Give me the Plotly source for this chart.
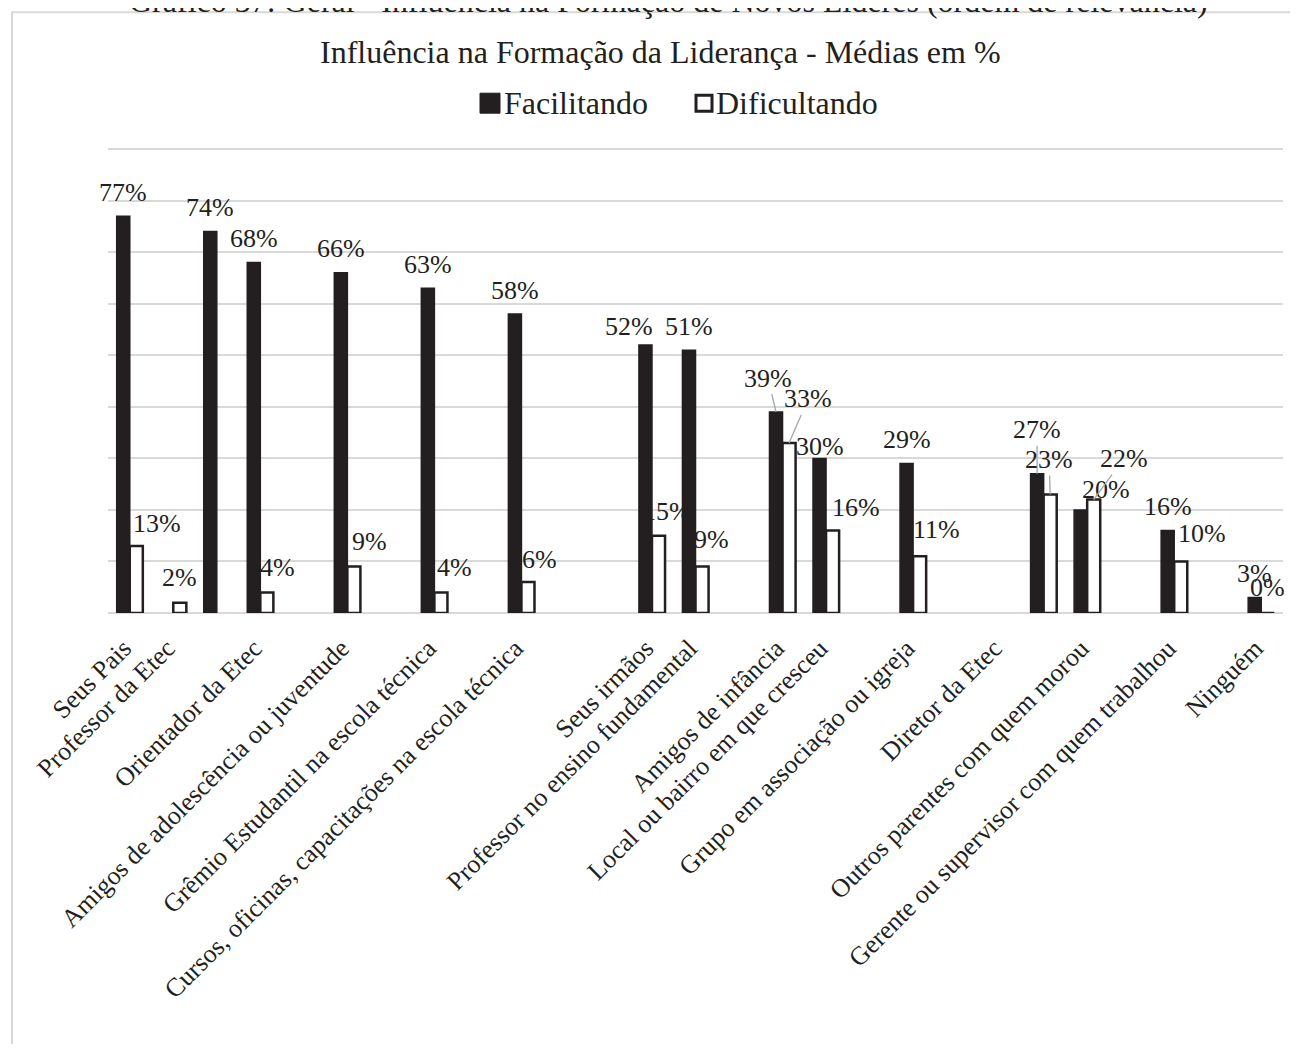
import plotly.graph_objects as go

# 27 category slots along the x axis (some slots carry no label)
slot_labels = [
    "Seus Pais", "Professor da Etec", "", "Orientador da Etec", "",
    "Amigos de adolescência ou juventude", "", "Grêmio Estudantil na escola técnica", "",
    "Cursos, oficinas, capacitações na escola técnica", "", "",
    "Seus irmãos", "Professor no ensino fundamental", "",
    "Amigos de infância", "Local ou bairro em que cresceu", "",
    "Grupo em associação ou igreja", "", "Diretor da Etec", "",
    "Outros parentes com quem morou", "", "Gerente ou supervisor com quem trabalhou", "",
    "Ninguém",
]
facilitando = [77, None, 74, 68, None, 66, None, 63, None, 58, None, None,
               52, 51, None, 39, 30, None, 29, None, None, 27, 20, None, 16, None, 3]
dificultando = [13, 2, None, 4, None, 9, None, 4, None, 6, None, None,
                15, 9, None, 33, 16, None, 11, None, None, 23, 22, None, 10, None, 0]
series_names = ["Facilitando", "Dificultando"]

slots = list(range(len(slot_labels)))

# label placement (pixel offsets from bar top), leader line flag
nudge_f = {12: (-16, 19), 15: (-8, 34, True), 16: (0, 12), 21: (0, 44, True), 22: (25, 20)}
nudge_d = {0: (21, 23), 1: (0, 25), 3: (11, 25), 5: (16, 25), 7: (14, 25), 9: (12, 23),
           12: (8, 24), 13: (9, 27), 15: (19, 44, True), 16: (23, 23), 18: (17, 27),
           21: (-1, 35, True), 22: (30, 41, True), 24: (21, 28), 26: (0, 26)}

# page body has an 8px margin, so the figure is laid out in screen pixels minus OFF
OFF = 8
W, H = 1290, 1036
YMAX = 91
PL, PR, PB = 108, 1283, 613.3            # plot area in screen pixels
PT = PB - (PB - 149) * YMAX / 90
ML, MT = PL - OFF, PT - OFF
plot_w, plot_h = PR - PL, PB - PT
MR, MB = W - ML - plot_w, H - MT - plot_h
unit = plot_w / len(slots)
half = 0.15 * unit

INK = "#231f20"
GRID = "#d9d9d9"
FONT = "Liberation Serif, Times New Roman, serif"


def px_x(px):
    return (px - PL) / plot_w


def px_y(py):
    return (PB - py) / plot_h


fig = go.Figure()
fig.add_trace(go.Bar(
    x=slots, y=facilitando, name=series_names[0],
    marker=dict(color=INK, line=dict(color=INK, width=1.5)),
))
fig.add_trace(go.Bar(
    x=slots, y=dificultando, name=series_names[1],
    marker=dict(color="white", line=dict(color=INK, width=2.5)),
))

annotations = []
for values, nudges, shift, default in ((facilitando, nudge_f, -half, (0, 24)),
                                       (dificultando, nudge_d, half, (12, 24))):
    for s, v in zip(slots, values):
        if v is None:
            continue
        n = nudges.get(s, default)
        leader = len(n) > 2 and n[2]
        annotations.append(dict(
            x=s, y=v, xref="x", yref="y", xshift=shift,
            text=f"{v}%", showarrow=True, arrowhead=0, arrowwidth=1.3,
            arrowcolor="#a6a6a6" if leader else "rgba(0,0,0,0)",
            ax=n[0], ay=-n[1], standoff=0,
            font=dict(family=FONT, size=26, color=INK),
        ))

annotations.append(dict(
    text="Influência na Formação da Liderança - Médias em %",
    x=px_x(660), y=px_y(52), xref="paper", yref="paper",
    xanchor="center", yanchor="middle", showarrow=False,
    font=dict(family=FONT, size=32, color=INK),
))
annotations.append(dict(
    text="Gráfico 37: Geral - Influência na Formação de Novos Líderes (ordem de relevância)",
    x=px_x(668), y=px_y(1), xref="paper", yref="paper",
    xanchor="center", yanchor="middle", showarrow=False,
    font=dict(family=FONT, size=32, color=INK),
))

# legend drawn by hand: big square swatches like the original
legend_items = [(series_names[0], 480, 500, 93, 113, INK, INK, 1),
                (series_names[1], 696, 712, 95, 111, "white", INK, 3)]
shapes = [dict(type="rect", xref="paper", yref="paper",
               x0=px_x(12), x1=px_x(W + 40), y0=px_y(H + 40), y1=px_y(12),
               line=dict(color=GRID, width=2), fillcolor="rgba(0,0,0,0)", layer="below")]
for name, x0, x1, y0, y1, fill, line, lw in legend_items:
    shapes.append(dict(type="rect", xref="paper", yref="paper",
                       x0=px_x(x0), x1=px_x(x1), y0=px_y(y1), y1=px_y(y0),
                       fillcolor=fill, line=dict(color=line, width=lw)))
    annotations.append(dict(
        text=name, x=px_x(x1 + 2), y=px_y(103), xref="paper", yref="paper",
        xanchor="left", yanchor="middle", showarrow=False,
        font=dict(family=FONT, size=32, color=INK),
    ))

fig.update_layout(
    width=W, height=H, barmode="group", bargap=0.4, bargroupgap=0,
    paper_bgcolor="white", plot_bgcolor="white",
    margin=dict(l=ML, r=MR, t=MT, b=MB, autoexpand=False),
    font=dict(family=FONT, size=26, color=INK),
    showlegend=False,
    xaxis=dict(range=[-0.5, len(slots) - 0.5], tickmode="array", tickvals=slots,
               ticktext=slot_labels, tickangle=-45, showgrid=False, zeroline=False,
               showline=False, ticks="", ticklabelstandoff=14, ticklabelshift=-6,
               tickfont=dict(family=FONT, size=26, color=INK)),
    yaxis=dict(range=[0, YMAX], tickmode="linear", tick0=0, dtick=10, showticklabels=False,
               gridcolor=GRID, gridwidth=1.5,
               zeroline=True, zerolinecolor=GRID, zerolinewidth=2, showline=False, ticks=""),
    annotations=annotations,
    shapes=shapes,
)

fig.write_html("out.html")
